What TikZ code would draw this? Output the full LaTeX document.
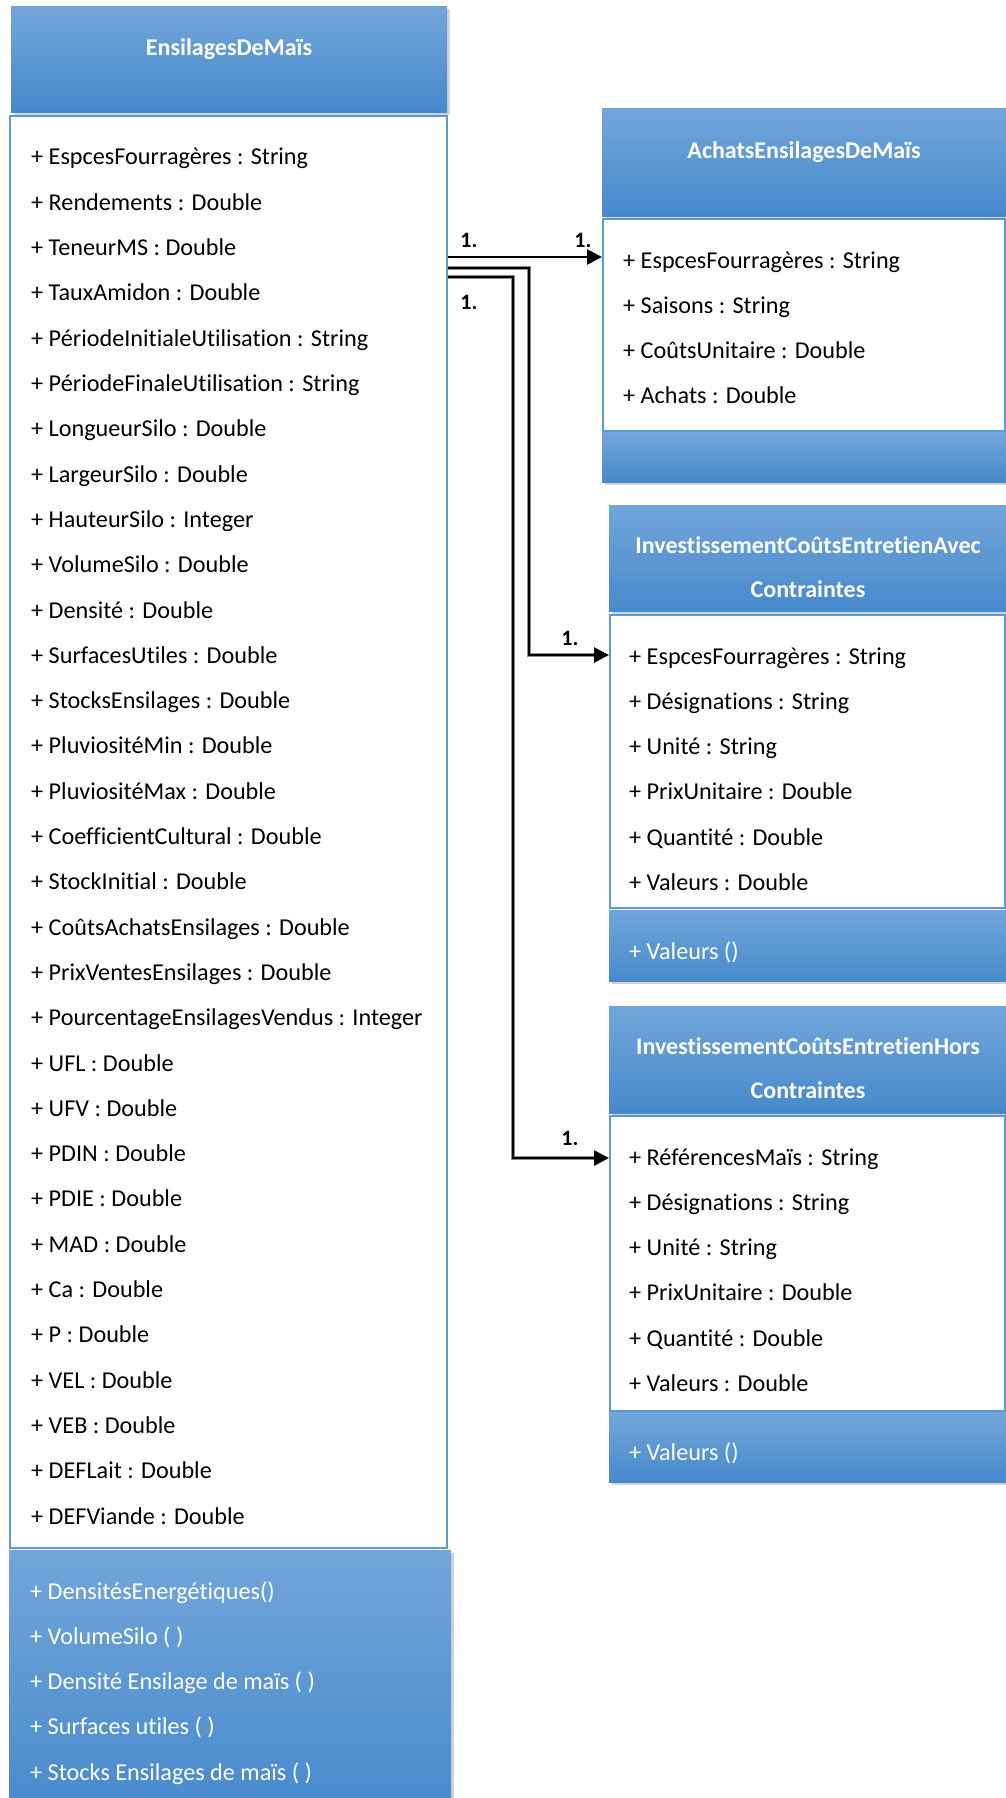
\documentclass[tikz,border=0pt]{standalone}
\usepackage{fontspec}
\setmainfont{Carlito}[Ligatures=NoCommon]
\usetikzlibrary{shadows,arrows.meta,calc}
\definecolor{hdtop}{RGB}{114,166,218}
\definecolor{hdbot}{RGB}{70,137,204}
\definecolor{bord}{RGB}{91,155,213}
\tikzset{
 hdr/.style={rectangle, anchor=north west, inner sep=0pt, top color=hdtop, bottom color=hdbot, draw=none,
   drop shadow={shadow xshift=3pt,shadow yshift=-3pt,opacity=0.35}},
 attrbox/.style={rectangle, anchor=north west, inner sep=0pt, fill=white, draw=bord, line width=2pt},
 rowtxt/.style={anchor=base west, inner sep=0pt, font=\fontsize{24.2}{28}\selectfont, text=black},
 mtxt/.style={rowtxt, text=white},
 htxt/.style={anchor=base, inner sep=0pt, font=\bfseries\fontsize{24}{28}\selectfont, text=white},
 halo/.style={line width=4.6pt, draw=black!45, shorten >=10pt},
 conn/.style={line width=2.7pt, -{Triangle[length=15pt,width=15pt]}},
 mult/.style={inner sep=0pt, font=\bfseries\fontsize{22}{24}\selectfont},
}
\begin{document}
\begin{tikzpicture}[x=1pt,y=-1pt]
\useasboundingbox (0,0) rectangle (1006,1798);
\fill[white] (0,0) rectangle (1006,1798);

% ---------- left class ----------
\node[attrbox, minimum width=437pt, minimum height=1432pt] (LA) at (9,115) {};
\node[hdr, minimum width=436pt, minimum height=106pt] (LH) at (11,6) {};
\node[hdr, minimum width=442pt, minimum height=270pt] (LM) at (9,1550) {};
\node[htxt] (LHt) at (229,56) {EnsilagesDeMaïs};
\foreach \t [count=\i from 0] in {
+ EspcesFourragères : String,
+ Rendements : Double,
+ TeneurMS : Double,
+ TauxAmidon : Double,
+ PériodeInitialeUtilisation : String,
+ PériodeFinaleUtilisation : String,
+ LongueurSilo : Double,
+ LargeurSilo : Double,
+ HauteurSilo : Integer,
+ VolumeSilo : Double,
+ Densité : Double,
+ SurfacesUtiles : Double,
+ StocksEnsilages : Double,
+ PluviositéMin : Double,
+ PluviositéMax : Double,
+ CoefficientCultural : Double,
+ StockInitial : Double,
+ CoûtsAchatsEnsilages : Double,
+ PrixVentesEnsilages : Double,
+ PourcentageEnsilagesVendus : Integer,
+ UFL : Double,
+ UFV : Double,
+ PDIN : Double,
+ PDIE : Double,
+ MAD : Double,
+ Ca : Double,
+ P : Double,
+ VEL : Double,
+ VEB : Double,
+ DEFLait : Double,
+ DEFViande : Double}
  \node[rowtxt] (la\i) at (31,165+45.3*\i) {\t};
\foreach \t [count=\i from 0] in {
+ DensitésEnergétiques(),
+ VolumeSilo ( ),
+ Densité Ensilage de maïs ( ),
+ Surfaces utiles ( ),
+ Stocks Ensilages de maïs ( )}
  \node[mtxt] (lm\i) at (30,1599+45.3*\i) {\t};

% ---------- right class 1 ----------
\node[attrbox, minimum width=402pt, minimum height=212pt] (AA) at (602,218) {};
\node[hdr, minimum width=410pt, minimum height=108pt] (AH) at (602,108) {};
\node[hdr, minimum width=410pt, minimum height=50pt] (AM) at (602,432) {};
\node[htxt] (AHt) at (804,159) {AchatsEnsilagesDeMaïs};
\foreach \t [count=\i from 0] in {
+ EspcesFourragères : String,
+ Saisons : String,
+ CoûtsUnitaire : Double,
+ Achats : Double}
  \node[rowtxt] (aa\i) at (623,268+45.3*\i) {\t};

% ---------- right class 2 ----------
\node[attrbox, minimum width=395pt, minimum height=293pt] (BA) at (609,614) {};
\node[hdr, minimum width=403pt, minimum height=106pt] (BH) at (609,505) {};
\node[hdr, minimum width=403pt, minimum height=71pt] (BM) at (609,910) {};
\node[htxt] (BHt1) at (808,553) {InvestissementCoûtsEntretienAvec};
\node[htxt] (BHt2) at (808,597) {Contraintes};
\foreach \t [count=\i from 0] in {
+ EspcesFourragères : String,
+ Désignations : String,
+ Unité : String,
+ PrixUnitaire : Double,
+ Quantité : Double,
+ Valeurs : Double}
  \node[rowtxt] (ba\i) at (629,664+45.3*\i) {\t};
\node[mtxt] (bm0) at (629,959) {+ Valeurs ()};

% ---------- right class 3 ----------
\node[attrbox, minimum width=395pt, minimum height=295pt] (CA) at (609,1115) {};
\node[hdr, minimum width=403pt, minimum height=107pt] (CH) at (609,1006) {};
\node[hdr, minimum width=403pt, minimum height=70pt] (CM) at (609,1412) {};
\node[htxt] (CHt1) at (808,1054) {InvestissementCoûtsEntretienHors};
\node[htxt] (CHt2) at (808,1098) {Contraintes};
\foreach \t [count=\i from 0] in {
+ RéférencesMaïs : String,
+ Désignations : String,
+ Unité : String,
+ PrixUnitaire : Double,
+ Quantité : Double,
+ Valeurs : Double}
  \node[rowtxt] (ca\i) at (629,1165+45.3*\i) {\t};
\node[mtxt] (cm0) at (629,1460) {+ Valeurs ()};

% ---------- connectors ----------
\coordinate (s1) at (LA.east |- 0,257);
\coordinate (s2) at (LA.east |- 0,268);
\coordinate (s3) at (LA.east |- 0,277);
\coordinate (e1) at (AA.west |- 0,257);
\coordinate (e2) at (BA.west |- 0,655);
\coordinate (e3) at (CA.west |- 0,1158);
\coordinate (k2) at (529,268);
\coordinate (k3) at (513,277);
\draw[halo] (s2) -- (k2) |- (e2);
\draw[halo] (s3) -- (k3) |- (e3);
\draw[conn] (s1) -- (e1);
\draw[conn] (s2) -- (k2) |- (e2);
\draw[conn] (s3) -- (k3) |- (e3);

\node[mult] (m1) at (469,240) {1.};
\node[mult] (m2) at (583,240) {1.};
\node[mult] (m3) at (469,302) {1.};
\node[mult] (m4) at (570,638) {1.};
\node[mult] (m5) at (570,1138) {1.};
\end{tikzpicture}
\end{document}
